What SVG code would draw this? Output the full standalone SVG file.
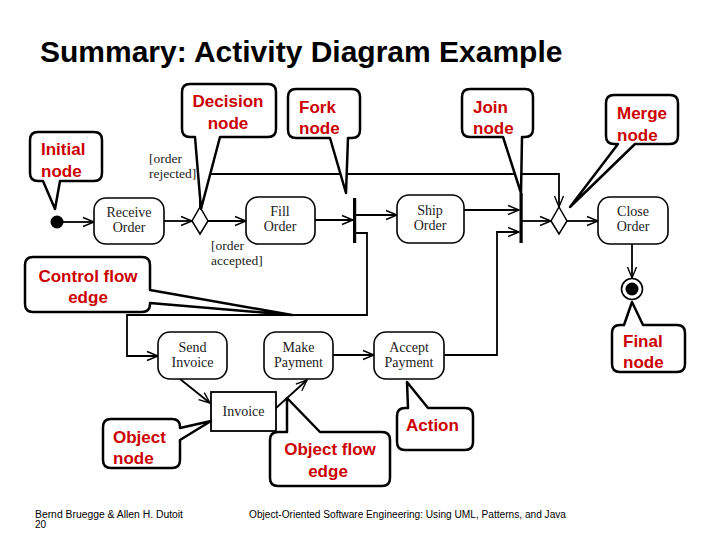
<svg xmlns="http://www.w3.org/2000/svg" width="720" height="540" viewBox="0 0 720 540">
<defs>
<marker id="arr" markerUnits="userSpaceOnUse" markerWidth="14" markerHeight="12" refX="12" refY="6" orient="auto">
<path d="M1,1.5 L12,6 L1,10.5" fill="none" stroke="#000" stroke-width="1.4"/>
</marker>
<style>
.bg{fill:#fff}
.title{font-family:"Liberation Sans",Arial,sans-serif;font-weight:bold;font-size:30px;fill:#000}
.act{fill:#fff;stroke:#000;stroke-width:1.6}
.lbl{font-family:"Liberation Serif","Times New Roman",serif;font-size:14px;fill:#222;text-anchor:middle}
.grd{font-family:"Liberation Serif","Times New Roman",serif;font-size:13.5px;fill:#222}
.edge{fill:none;stroke:#000;stroke-width:1.8;marker-end:url(#arr)}
.bar{fill:#000}
.co{fill:#fff;stroke:#000;stroke-width:2.5;stroke-linejoin:round}
.ct{font-family:"Liberation Sans",Arial,sans-serif;font-weight:bold;font-size:17px;fill:#cc0000}
.mid{text-anchor:middle}
.foot{font-family:"Liberation Sans",Arial,sans-serif;font-size:10px;fill:#000}
</style>
</defs>
<rect class="bg" x="0" y="0" width="720" height="540"/>
<text class="title" x="40" y="62">Summary: Activity Diagram Example</text>

<g id="connectors">
<line class="edge" x1="63" y1="222" x2="94" y2="222"/>
<line class="edge" x1="164" y1="221" x2="192" y2="221"/>
<line class="edge" x1="208" y1="221" x2="246" y2="221"/>
<path class="edge" d="M200,207 V174 H559 V207"/>
<line class="edge" x1="315" y1="220" x2="353" y2="220"/>
<line class="edge" x1="356" y1="215" x2="397" y2="215"/>
<path class="edge" d="M356,233 H367 V315 H127 V356 H158"/>
<line class="edge" x1="464" y1="210" x2="519" y2="210"/>
<path class="edge" d="M444,355 H497 V232 H519"/>
<line class="edge" x1="522" y1="221" x2="551" y2="221"/>
<line class="edge" x1="567" y1="221" x2="598" y2="221"/>
<line class="edge" x1="632" y1="244" x2="632" y2="278"/>
<line class="edge" x1="180" y1="379" x2="210" y2="403"/>
<line class="edge" x1="276" y1="408" x2="307" y2="380"/>
<line class="edge" x1="333" y1="355" x2="374" y2="355"/>
</g>

<g id="initial"><circle cx="57" cy="222" r="6.5" fill="#000"/></g>
<g id="receive-order"><rect class="act" x="94" y="198" width="70" height="46" rx="12"/><text class="lbl" x="129" y="217">Receive</text><text class="lbl" x="129" y="232">Order</text></g>
<g id="decision"><polygon points="200,207 208,221 200,234 192,221" fill="#fff" stroke="#000" stroke-width="1.5"/></g>
<g id="fill-order"><rect class="act" x="246" y="197" width="69" height="47" rx="12"/><text class="lbl" x="280" y="216">Fill</text><text class="lbl" x="280" y="231">Order</text></g>
<g id="fork"><rect class="bar" x="353" y="198" width="3.2" height="45"/></g>
<g id="ship-order"><rect class="act" x="397" y="195" width="67" height="48" rx="12"/><text class="lbl" x="430" y="215">Ship</text><text class="lbl" x="430" y="230">Order</text></g>
<g id="join"><rect class="bar" x="519.5" y="193" width="3.2" height="50"/></g>
<g id="merge"><polygon points="559,207 567,221 559,234 551,221" fill="#fff" stroke="#000" stroke-width="1.5"/></g>
<g id="close-order"><rect class="act" x="598" y="197" width="70" height="47" rx="12"/><text class="lbl" x="633" y="216">Close</text><text class="lbl" x="633" y="231">Order</text></g>
<g id="final"><circle cx="632" cy="289" r="10.5" fill="#fff" stroke="#000" stroke-width="1.6"/><circle cx="632" cy="289" r="6.5" fill="#000"/></g>
<g id="send-invoice"><rect class="act" x="158" y="332" width="69" height="47" rx="12"/><text class="lbl" x="192.5" y="351.5">Send</text><text class="lbl" x="192.5" y="366.5">Invoice</text></g>
<g id="make-payment"><rect class="act" x="264" y="332" width="69" height="47" rx="12"/><text class="lbl" x="298.5" y="351.5">Make</text><text class="lbl" x="298.5" y="366.5">Payment</text></g>
<g id="accept-payment"><rect class="act" x="374" y="332" width="70" height="47" rx="12"/><text class="lbl" x="409" y="351.5">Accept</text><text class="lbl" x="409" y="366.5">Payment</text></g>
<g id="invoice"><rect x="211" y="392" width="65" height="39" fill="#fff" stroke="#000" stroke-width="1.8"/><text class="lbl" x="243.5" y="416">Invoice</text></g>

<g id="guards">
<text class="grd" x="149" y="163">[order</text>
<text class="grd" x="149" y="178">rejected]</text>
<text class="grd" x="211" y="250">[order</text>
<text class="grd" x="211" y="265">accepted]</text>
</g>

<g id="callout-initial"><path class="co" d="M38 132 H94 Q102 132 102 140 V173 Q102 181 94 181 H60 L55 209 L43 181 H38 Q30 181 30 173 V140 Q30 132 38 132 Z"/><text class="ct" x="41" y="155">Initial</text><text class="ct" x="41" y="177">node</text></g>
<g id="callout-decision"><path class="co" d="M190 84 H268 Q276 84 276 92 V129 Q276 137 268 137 H220 L201 209 L195 137 H190 Q182 137 182 129 V92 Q182 84 190 84 Z"/><text class="ct mid" x="228" y="107">Decision</text><text class="ct mid" x="228" y="129">node</text></g>
<g id="callout-fork"><path class="co" d="M296 89 H352 Q360 89 360 97 V130 Q360 138 352 138 H348 L346 193 L330 138 H296 Q288 138 288 130 V97 Q288 89 296 89 Z"/><text class="ct" x="299" y="113">Fork</text><text class="ct" x="299" y="134">node</text></g>
<g id="callout-join"><path class="co" d="M470 89 H525 Q533 89 533 97 V129 Q533 137 525 137 H522 L521 193 L503 137 H470 Q462 137 462 129 V97 Q462 89 470 89 Z"/><text class="ct" x="473" y="113">Join</text><text class="ct" x="473" y="134">node</text></g>
<g id="callout-merge"><path class="co" d="M614 95 H670 Q678 95 678 103 V136 Q678 144 670 144 H635 L570 207 L618 144 H614 Q606 144 606 136 V103 Q606 95 614 95 Z"/><text class="ct" x="617" y="119">Merge</text><text class="ct" x="617" y="141">node</text></g>
<g id="callout-control-flow"><path class="co" d="M33 257 H142 Q150 257 150 265 V290 L292 315 L150 303 V304 Q150 312 142 312 H33 Q25 312 25 304 V265 Q25 257 33 257 Z"/><text class="ct mid" x="88" y="282">Control flow</text><text class="ct mid" x="88" y="303">edge</text></g>
<g id="callout-final"><path class="co" d="M620 325 H624 L632 302 L643 325 H677 Q685 325 685 333 V364 Q685 372 677 372 H620 Q612 372 612 364 V333 Q612 325 620 325 Z"/><text class="ct" x="623" y="347">Final</text><text class="ct" x="623" y="368">node</text></g>
<g id="callout-action"><path class="co" d="M405 408 H408 L407 382 L428 408 H465 Q473 408 473 416 V442 Q473 450 465 450 H405 Q397 450 397 442 V416 Q397 408 405 408 Z"/><text class="ct" x="406" y="431">Action</text></g>
<g id="callout-object-flow"><path class="co" d="M278 432 H287 L287 398 L320 432 H382 Q390 432 390 440 V478 Q390 486 382 486 H278 Q270 486 270 478 V440 Q270 432 278 432 Z"/><text class="ct mid" x="330" y="455">Object flow</text><text class="ct mid" x="328" y="477">edge</text></g>
<g id="callout-object-node"><path class="co" d="M111 419 H172 Q180 419 180 427 V428 L211 421 L180 440 V460 Q180 468 172 468 H111 Q103 468 103 460 V427 Q103 419 111 419 Z"/><text class="ct" x="113" y="443">Object</text><text class="ct" x="113" y="464">node</text></g>

<g id="footer">
<text class="foot" x="35" y="518" textLength="148" lengthAdjust="spacingAndGlyphs">Bernd Bruegge &amp; Allen H. Dutoit</text>
<text class="foot" x="35" y="528">20</text>
<text class="foot" x="249" y="518" textLength="317" lengthAdjust="spacingAndGlyphs">Object-Oriented Software Engineering: Using UML, Patterns, and Java</text>
</g>
</svg>
